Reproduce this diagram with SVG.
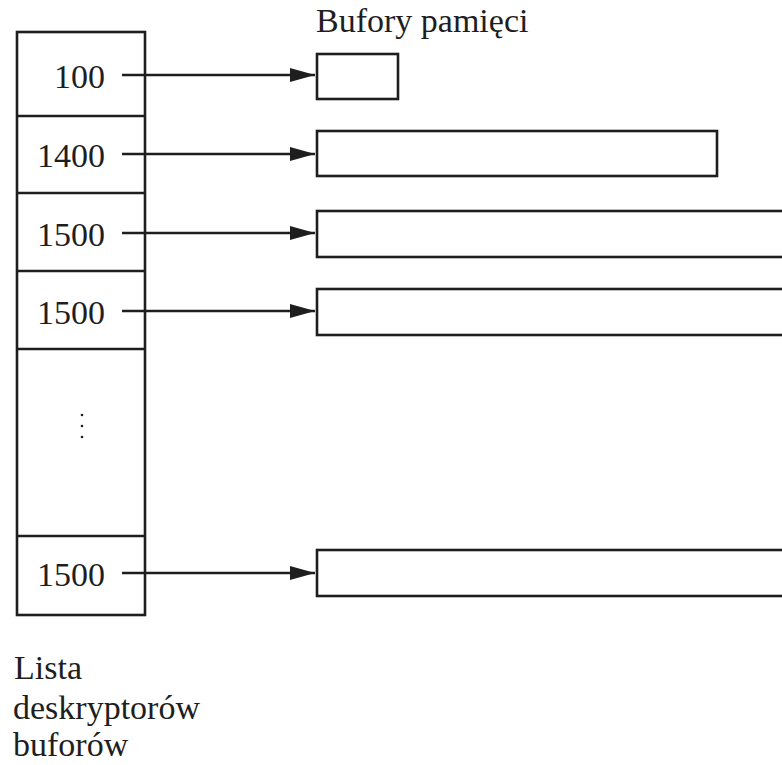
<svg xmlns="http://www.w3.org/2000/svg" width="782" height="765" viewBox="0 0 782 765">
<style>
  .box { fill: none; stroke: #1e1e1e; stroke-width: 2.6; }
  .conn { stroke: #1e1e1e; stroke-width: 2.6; fill: none; }
  .lbl { font-family: "Liberation Serif", "Times New Roman", Times, "DejaVu Serif", serif; font-size: 34px; fill: #1e1e1e; }
  .num { text-anchor: end; }
</style>
<defs>
  <marker id="arr" viewBox="0 0 25 14" refX="25" refY="7" markerWidth="25" markerHeight="14" markerUnits="userSpaceOnUse" orient="auto">
    <path d="M0,0 L25,7 L0,14 Z" fill="#1e1e1e"/>
  </marker>
</defs>
<rect x="0" y="0" width="782" height="765" fill="#ffffff"/>

<g id="descriptor-list">
  <rect class="box" x="17" y="32" width="128" height="583"/>
  <line class="box" x1="17" y1="116" x2="145" y2="116"/>
  <line class="box" x1="17" y1="193" x2="145" y2="193"/>
  <line class="box" x1="17" y1="271" x2="145" y2="271"/>
  <line class="box" x1="17" y1="349" x2="145" y2="349"/>
  <line class="box" x1="17" y1="536" x2="145" y2="536"/>
  <text class="lbl num" x="105" y="88">100</text>
  <text class="lbl num" x="105" y="167">1400</text>
  <text class="lbl num" x="105" y="246">1500</text>
  <text class="lbl num" x="105" y="324">1500</text>
  <circle cx="82" cy="415" r="1.3" fill="#1e1e1e"/>
  <circle cx="82" cy="426" r="1.3" fill="#1e1e1e"/>
  <circle cx="82" cy="437" r="1.3" fill="#1e1e1e"/>
  <text class="lbl num" x="105" y="586">1500</text>
</g>

<g id="buffer-1"><rect class="box" x="317" y="54" width="81" height="45"/></g>
<g id="buffer-2"><rect class="box" x="317" y="131" width="400" height="45"/></g>
<g id="buffer-3"><rect class="box" x="317" y="211" width="480" height="46"/></g>
<g id="buffer-4"><rect class="box" x="317" y="289" width="480" height="46"/></g>
<g id="buffer-5"><rect class="box" x="317" y="550" width="480" height="46"/></g>

<g id="connectors">
  <line class="conn" x1="122" y1="75" x2="315" y2="75" marker-end="url(#arr)"/>
  <line class="conn" x1="122" y1="154" x2="315" y2="154" marker-end="url(#arr)"/>
  <line class="conn" x1="122" y1="233" x2="315" y2="233" marker-end="url(#arr)"/>
  <line class="conn" x1="122" y1="311" x2="315" y2="311" marker-end="url(#arr)"/>
  <line class="conn" x1="122" y1="573" x2="315" y2="573" marker-end="url(#arr)"/>
</g>

<g id="titles">
  <text class="lbl" x="316" y="32">Bufory pamięci</text>
  <text class="lbl" x="14" y="679">Lista</text>
  <text class="lbl" x="13" y="719">deskryptorów</text>
  <text class="lbl" x="13" y="756">buforów</text>
</g>
</svg>
